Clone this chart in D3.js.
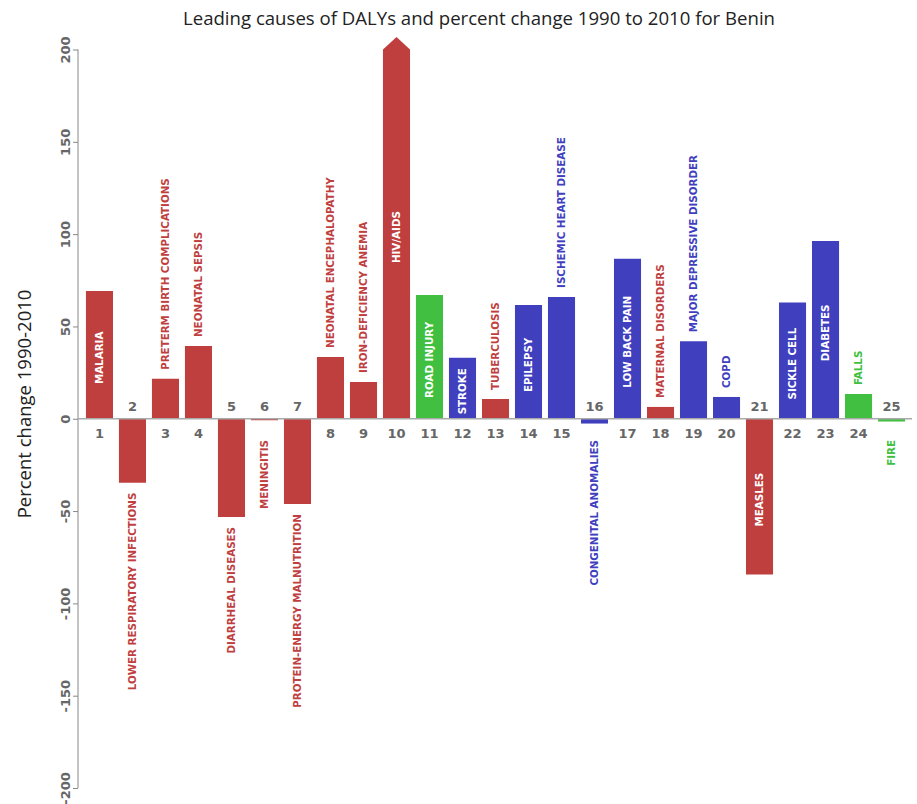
<!DOCTYPE html>
<html>
<head>
<meta charset="utf-8">
<script src="https://cdn.jsdelivr.net/npm/d3@7"></script>
<style>
  body { margin: 0; background: #fff; }
  text.dv { font-family: "DejaVu Sans"; font-weight: bold; }
  .axis path, .axis line { stroke: #888; }
  .axis text { font-family: "DejaVu Sans"; font-weight: bold; font-size: 13px; fill: #666; }
</style>
</head>
<body>
<svg width="917" height="804"></svg>
<script>
var causes = ["MALARIA", "LOWER RESPIRATORY INFECTIONS", "PRETERM BIRTH COMPLICATIONS", "NEONATAL SEPSIS",
  "DIARRHEAL DISEASES", "MENINGITIS", "PROTEIN-ENERGY MALNUTRITION", "NEONATAL ENCEPHALOPATHY",
  "IRON-DEFICIENCY ANEMIA", "HIV/AIDS", "ROAD INJURY", "STROKE", "TUBERCULOSIS", "EPILEPSY",
  "ISCHEMIC HEART DISEASE", "CONGENITAL ANOMALIES", "LOW BACK PAIN", "MATERNAL DISORDERS",
  "MAJOR DEPRESSIVE DISORDER", "COPD", "MEASLES", "SICKLE CELL", "DIABETES", "FALLS", "FIRE"];
var change = [69.2, -34.6, 21.6, 39.4, -53.2, -0.8, -46.2, 33.5, 19.9, 230, 67, 33, 10.7, 61.6,
  66, -2.6, 86.6, 6.4, 42, 11.8, -84.4, 63, 96.3, 13.4, -1.5];
var group = ["cmnn", "cmnn", "cmnn", "cmnn", "cmnn", "cmnn", "cmnn", "cmnn", "cmnn", "cmnn", "inj", "ncd", "cmnn",
  "ncd", "ncd", "ncd", "ncd", "cmnn", "ncd", "ncd", "cmnn", "ncd", "ncd", "inj", "inj"];
var yTicks = [-200, -150, -100, -50, 0, 50, 100, 150, 200];

var data = causes.map(function(c, i) {
  return {rank: i + 1, name: c, value: change[i], group: group[i]};
});

var svg = d3.select("svg"),
    plotLeft = 78, plotTop = 49.5, plotBottom = 788;

var x = d3.scaleBand().domain(data.map(function(d) { return d.rank; }))
    .range([80, 911]).padding(0.18),
    y = d3.scaleLinear().domain([-200, 200]).range([plotBottom, plotTop]),
    color = d3.scaleOrdinal().domain(["cmnn", "ncd", "inj"]).range(["#bf3f3f", "#4040bf", "#40bf40"]);

var y0 = y(0), bw = x.bandwidth();

svg.append("text")
    .attr("x", 479).attr("y", 25)
    .attr("text-anchor", "middle")
    .style("font-family", "'Open Sans', sans-serif").style("font-size", "18.6px").style("fill", "#222")
    .text("Leading causes of DALYs and percent change 1990 to 2010 for Benin");

svg.append("text")
    .attr("transform", "translate(25,404) rotate(-90)")
    .attr("text-anchor", "middle").attr("dy", "0.35em")
    .style("font-family", "'Open Sans', sans-serif").style("font-size", "18.5px").style("fill", "#222")
    .text("Percent change 1990-2010");

var ax = svg.append("g")
    .attr("class", "axis")
    .attr("transform", "translate(" + plotLeft + ",0)")
    .call(d3.axisLeft(y).tickValues(yTicks).tickSize(5).tickSizeOuter(5)
      .tickFormat(function(d) { return String(d); }));
ax.select(".domain").remove();
ax.append("line").attr("y1", plotTop).attr("y2", plotBottom).attr("stroke", "#888");
ax.selectAll(".tick text")
    .attr("x", null).attr("dy", "0.35em")
    .attr("text-anchor", "middle")
    .attr("transform", "translate(-13,0) rotate(-90)");

// bars, the one above 200 gets an arrow
svg.selectAll(".bar")
  .data(data)
  .enter().append("path")
    .attr("class", "bar")
    .attr("fill", function(d) { return color(d.group); })
    .attr("d", function(d) {
      var x0 = x(d.rank), v = Math.min(d.value, 200), yv = y(v);
      if (d.value > 200) {
        return "M" + x0 + "," + y0 + "V" + yv + "L" + (x0 + bw / 2) + "," + (yv - 12.5) +
          "L" + (x0 + bw) + "," + yv + "V" + y0 + "Z";
      }
      return "M" + x0 + "," + Math.min(y0, yv) + "h" + bw + "V" + Math.max(y0, yv) + "h" + (-bw) + "Z";
    });

svg.append("line")
    .attr("x1", plotLeft).attr("x2", 912)
    .attr("y1", y0).attr("y2", y0)
    .attr("stroke", "#aaa").attr("stroke-width", 1.5);

// rank numbers on the other side of the zero line
svg.selectAll(".rank")
  .data(data)
  .enter().append("text")
    .attr("class", "rank dv")
    .attr("x", function(d) { return x(d.rank) + bw / 2; })
    .attr("y", function(d) { return d.value >= 0 ? y0 + 19 : y0 - 8; })
    .attr("text-anchor", "middle")
    .style("font-size", "13px").style("fill", "#666")
    .text(function(d) { return d.rank; });

var labels = svg.selectAll(".name")
  .data(data)
  .enter().append("text")
    .attr("class", "name dv")
    .attr("dy", "0.35em")
    .style("font-size", "10.3px")
    .text(function(d) { return d.name; });

labels.each(function(d) {
  var t = d3.select(this),
      len = this.getComputedTextLength(),
      v = Math.min(d.value, 200),
      cx = x(d.rank) + bw / 2,
      h = Math.abs(y(v) - y0);
  if (len + 10 < h) {
    t.attr("text-anchor", "middle").attr("fill", "#fff")
      .attr("transform", "translate(" + cx + "," + ((y(v) + y0) / 2 + 3) + ") rotate(-90)");
  } else if (d.value >= 0) {
    t.attr("text-anchor", "start").attr("fill", color(d.group))
      .attr("transform", "translate(" + cx + "," + (y(v) - 9) + ") rotate(-90)");
  } else {
    t.attr("text-anchor", "end").attr("fill", color(d.group))
      .attr("transform", "translate(" + cx + "," + Math.max(y(v) + 10, 440) + ") rotate(-90)");
  }
});
</script>
</body>
</html>
